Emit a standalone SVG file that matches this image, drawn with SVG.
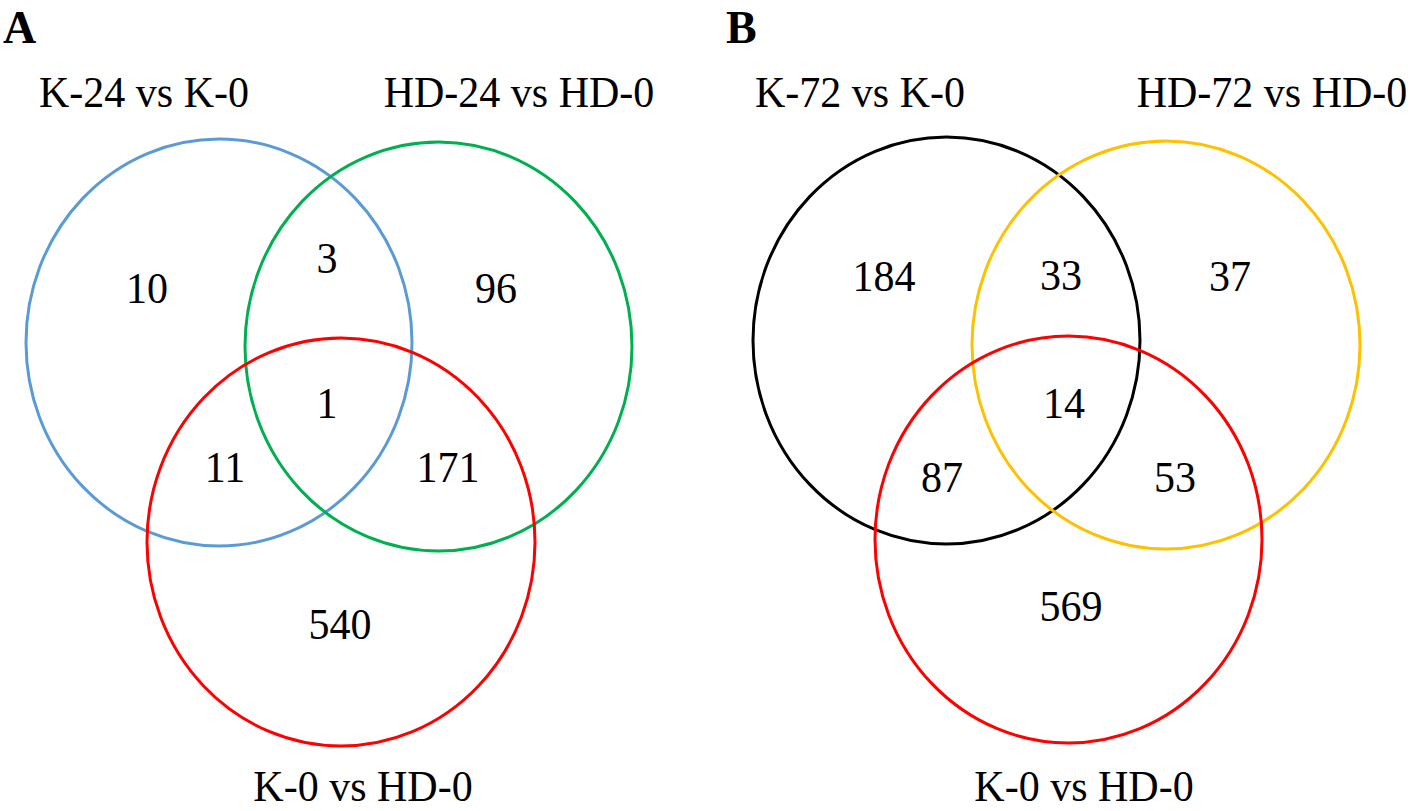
<svg xmlns="http://www.w3.org/2000/svg" width="1416" height="811" viewBox="0 0 1416 811">
<style>
.c{fill:none;stroke-width:3}
.t{font-family:"Liberation Serif","Times New Roman",serif;font-size:42px;fill:#000;text-anchor:middle}
.p{font-family:"Liberation Serif","Times New Roman",serif;font-size:46px;font-weight:bold;fill:#000}
</style>
<rect width="1416" height="811" fill="#fff"/>
<g id="panelA">
<text class="p" transform="translate(3,43)">A</text>
<g id="setA1"><ellipse class="c" cx="219" cy="342.5" rx="193" ry="203.5" stroke="#5B9BD5"/><text class="t" transform="translate(144,107) scale(1,1.07)">K-24 vs K-0</text></g>
<g id="setA2"><ellipse class="c" cx="438.5" cy="346.5" rx="193.5" ry="204.5" stroke="#00B050"/><text class="t" transform="translate(519,107) scale(1,1.07)">HD-24 vs HD-0</text></g>
<g id="setA3"><ellipse class="c" cx="341" cy="542" rx="194" ry="204" stroke="#FF0000"/><text class="t" transform="translate(363,801) scale(1,1.07)">K-0 vs HD-0</text></g>
<g id="countsA">
<text class="t" transform="translate(147,303) scale(1,1.07)">10</text>
<text class="t" transform="translate(327,273) scale(1,1.07)">3</text>
<text class="t" transform="translate(496,303) scale(1,1.07)">96</text>
<text class="t" transform="translate(327,418) scale(1,1.07)">1</text>
<text class="t" transform="translate(225,482) scale(1,1.07)">11</text>
<text class="t" transform="translate(448,482) scale(1,1.07)">171</text>
<text class="t" transform="translate(340,639) scale(1,1.07)">540</text>
</g>
</g>
<g id="panelB">
<text class="p" transform="translate(726,43)">B</text>
<g id="setB1"><ellipse class="c" cx="946.5" cy="340.5" rx="193.5" ry="203.5" stroke="#000000"/><text class="t" transform="translate(860,107) scale(1,1.07)">K-72 vs K-0</text></g>
<g id="setB2"><ellipse class="c" cx="1166" cy="345" rx="194" ry="204" stroke="#FFC000"/><text class="t" transform="translate(1272,107) scale(1,1.07)">HD-72 vs HD-0</text></g>
<g id="setB3"><ellipse class="c" cx="1068.5" cy="539.5" rx="193.5" ry="203.5" stroke="#FF0000"/><text class="t" transform="translate(1084,801) scale(1,1.07)">K-0 vs HD-0</text></g>
<g id="countsB">
<text class="t" transform="translate(884,291) scale(1,1.07)">184</text>
<text class="t" transform="translate(1061,290) scale(1,1.07)">33</text>
<text class="t" transform="translate(1230,291) scale(1,1.07)">37</text>
<text class="t" transform="translate(1064,418) scale(1,1.07)">14</text>
<text class="t" transform="translate(942,492) scale(1,1.07)">87</text>
<text class="t" transform="translate(1175,492) scale(1,1.07)">53</text>
<text class="t" transform="translate(1071,621) scale(1,1.07)">569</text>
</g>
</g>
<g id="connectors"/>
</svg>
